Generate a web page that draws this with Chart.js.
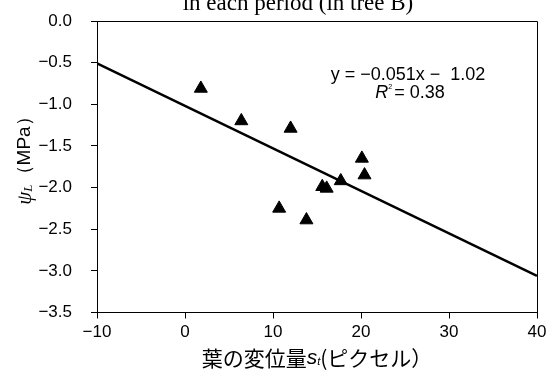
<!DOCTYPE html>
<html>
<head>
<meta charset="utf-8">
<script src="https://cdn.jsdelivr.net/npm/chart.js@4.4.0/dist/chart.umd.min.js"></script>
<style>
  html, body { margin: 0; padding: 0; background: #fff; }
  #wrap { width: 548px; height: 372px; }
</style>
</head>
<body>
<div id="wrap"><canvas id="chart" width="548" height="372"></canvas></div>
<script>
// leaf displacement s_t (pixels) vs leaf water potential (MPa), tree B
const dispX = [1.8, 6.4, 12.0, 20.1, 20.4, 15.6, 16.1, 17.7, 10.7, 13.8];
const psiY = [-0.81, -1.2, -1.29, -1.65, -1.85, -1.99, -2.01, -1.92, -2.25, -2.39];

// fitted line y = -0.051x - 1.02
const fitSlope = -0.051;
const fitIntercept = -1.02;
const fitRange = [-10, 40];

const xTicks = [-10, 0, 10, 20, 30, 40];
const yTicks = [0, -0.5, -1, -1.5, -2, -2.5, -3, -3.5];

const chartTitle = "in each period (in tree B)";
const eqText = "y = \u22120.051x \u2212  1.02";
const r2Text = "= 0.38";

const SANS = "'Liberation Sans', Arial, sans-serif";
const JP = "'Noto Sans CJK JP', sans-serif";
const SERIF = "'Liberation Serif', 'Times New Roman', serif";

function minus(v, digits) {
  let s = digits === undefined ? String(v) : v.toFixed(digits);
  return s.replace("-", "\u2212");
}

const points = dispX.map((x, i) => ({ x: x, y: psiY[i] }));
const fitLine = fitRange.map(x => ({ x: x, y: fitSlope * x + fitIntercept }));

// draws a row of text pieces, each with its own font and baseline shift
function drawPieces(ctx, pieces, cx, cy) {
  let total = 0;
  pieces.forEach(p => {
    ctx.font = p.font;
    p.w = ctx.measureText(p.text).width + (p.gap || 0);
    total += p.w;
  });
  let x = cx - total / 2;
  pieces.forEach(p => {
    ctx.font = p.font;
    ctx.fillText(p.text, x, cy + (p.dy || 0));
    x += p.w;
  });
}

const labelsPlugin = {
  id: "labels",
  afterDraw(chart) {
    const ctx = chart.ctx;
    const a = chart.chartArea;
    ctx.save();
    ctx.fillStyle = "#000";

    // frame top and right
    ctx.strokeStyle = "#000";
    ctx.lineWidth = 1;
    ctx.beginPath();
    ctx.moveTo(Math.round(a.left) + 0.5, Math.round(a.top) + 0.5);
    ctx.lineTo(Math.round(a.right) + 0.5, Math.round(a.top) + 0.5);
    ctx.lineTo(Math.round(a.right) + 0.5, Math.round(a.bottom) + 0.5);
    ctx.stroke();

    // title, cut off at top
    ctx.textAlign = "left";
    ctx.textBaseline = "alphabetic";
    ctx.font = "23px " + SERIF;
    const tw = ctx.measureText(chartTitle).width;
    ctx.fillText(chartTitle, 298 - tw / 2, 10);

    // equation
    ctx.textBaseline = "middle";
    drawPieces(ctx, [{ text: eqText, font: "18px " + SANS }], 408, 75);
    drawPieces(ctx, [
      { text: "R", font: "italic 18px " + SANS },
      { text: "2", font: "7px " + SANS, dy: -6, gap: 2 },
      { text: r2Text, font: "18px " + SANS }
    ], 410, 93);

    // x axis title
    drawPieces(ctx, [
      { text: "葉の変位量", font: "21px " + JP },
      { text: "s", font: "italic 21px " + SANS },
      { text: "t", font: "italic 11px " + SANS, dy: 4 },
      { text: "(ピクセル）", font: "21px " + JP }
    ], 317, 358);

    // y axis title
    ctx.translate(25, 156);
    ctx.rotate(-Math.PI / 2);
    drawPieces(ctx, [
      { text: "ψ", font: "italic 21px " + SERIF },
      { text: "L", font: "italic 13px " + SERIF, dy: 4 },
      { text: "（MPa）", font: "19px " + SANS }
    ], 0, 0);
    ctx.restore();
  }
};

new Chart(document.getElementById("chart"), {
  type: "scatter",
  data: {
    datasets: [
      {
        label: "fit",
        type: "line",
        data: fitLine,
        borderColor: "#000",
        borderWidth: 2.5,
        pointRadius: 0,
        fill: false,
        order: 2
      },
      {
        label: "data",
        data: points,
        pointStyle: "triangle",
        pointRadius: 7.5,
        backgroundColor: "#000",
        borderColor: "#000",
        borderWidth: 1,
        order: 1
      }
    ]
  },
  options: {
    responsive: false,
    animation: false,
    layout: { padding: { left: 0, right: 11, top: 21, bottom: 0 } },
    plugins: {
      legend: { display: false },
      tooltip: { enabled: false }
    },
    scales: {
      x: {
        type: "linear",
        min: -10,
        max: 40,
        afterBuildTicks: s => { s.ticks = xTicks.map(v => ({ value: v })); },
        afterFit: s => { s.height = 59.5; },
        ticks: {
          color: "#000",
          font: { family: SANS, size: 17, lineHeight: 1.67 },
          padding: 0,
          callback: v => minus(v)
        },
        grid: { drawOnChartArea: false, drawTicks: true, tickLength: 6, color: "#000" },
        border: { display: true, color: "#000", width: 1 }
      },
      y: {
        type: "linear",
        min: -3.5,
        max: 0,
        afterBuildTicks: s => { s.ticks = yTicks.map(v => ({ value: v })); },
        afterFit: s => { s.width = 97; },
        ticks: {
          color: "#000",
          font: { family: SANS, size: 17, lineHeight: 0.2 },
          padding: 19,
          callback: v => minus(v, 1)
        },
        grid: { drawOnChartArea: false, drawTicks: true, tickLength: 6, color: "#000" },
        border: { display: true, color: "#000", width: 1 }
      }
    }
  },
  plugins: [labelsPlugin]
});
</script>
</body>
</html>
